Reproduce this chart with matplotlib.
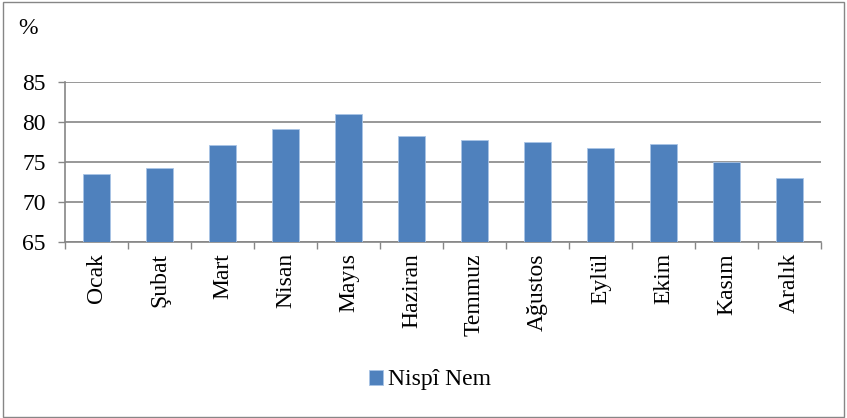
import numpy as np
import matplotlib.pyplot as plt
from matplotlib.patches import Rectangle

# Monthly relative humidity (%)
months = ["Ocak", "Şubat", "Mart", "Nisan", "Mayıs", "Haziran",
          "Temmuz", "Ağustos", "Eylül", "Ekim", "Kasım", "Aralık"]
humidity = [73.5, 74.2, 77.1, 79.1, 81.0, 78.3,
            77.8, 77.5, 76.8, 77.3, 75.0, 73.0]
yticks = [65, 70, 75, 80, 85]

plt.rcParams["font.family"] = ["Liberation Serif", "DejaVu Serif"]
fs = 17

fig = plt.figure(figsize=(8.47, 4.18), dpi=100)
ax = fig.add_axes([65 / 847, 1 - 242 / 418, (821 - 65) / 847, (242 - 82) / 418])

x = np.arange(len(months))
ax.bar(x, humidity, width=0.43, color="#4f81bd", edgecolor="#a9c4e6",
       linewidth=0.6, label="Nispî Nem", zorder=3)

ax.set_ylim(65, 85)
ax.set_xlim(-0.5, len(months) - 0.5)
ax.set_yticks(yticks)
ax.tick_params(axis="y", labelsize=fs, color="#868686", length=5, width=1, pad=9)
ax.yaxis.grid(True, color="#868686", linewidth=1.2, zorder=0)

ax.set_xticks(np.arange(-0.5, len(months), 1))
ax.set_xticklabels([])
ax.set_xticks(x, minor=True)
ax.set_xticklabels(months, minor=True, rotation=90, fontsize=fs)
ax.tick_params(axis="x", which="major", color="#868686", length=5, width=1)
ax.tick_params(axis="x", which="minor", length=0, pad=8)

for side in ["top", "right"]:
    ax.spines[side].set_visible(False)
for side in ["left", "bottom"]:
    ax.spines[side].set_color("#868686")
    ax.spines[side].set_linewidth(1.2)

fig.text(18 / 847, 1 - 28 / 418, "%", fontsize=fs, va="center")

fig.legend(loc="center", bbox_to_anchor=(430 / 847, 1 - 380 / 418),
           frameon=False, fontsize=fs, handlelength=0.6, handleheight=0.6,
           handletextpad=0.2)

# figure border
fig.patches.append(Rectangle((0.003, 0.003), 0.994, 0.993, transform=fig.transFigure,
                             fill=False, edgecolor="#868686", linewidth=1))

fig.savefig("out.png", dpi=100)
